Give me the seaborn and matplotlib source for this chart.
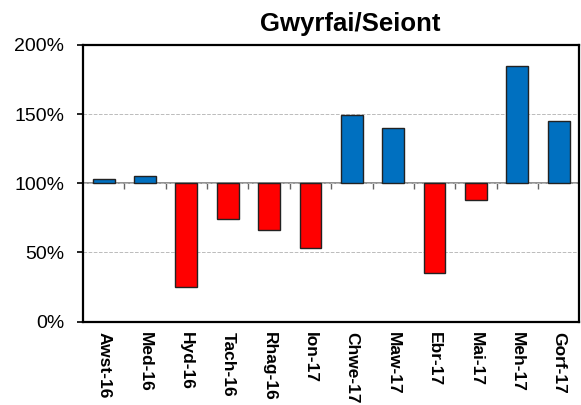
import numpy as np
import pandas as pd
import seaborn as sns
import matplotlib.pyplot as plt
from matplotlib.ticker import PercentFormatter

months = ["Awst-16", "Med-16", "Hyd-16", "Tach-16", "Rhag-16", "Ion-17",
          "Chwe-17", "Maw-17", "Ebr-17", "Mai-17", "Meh-17", "Gorf-17"]
pct = [103, 105, 25, 74, 66, 53, 149, 140, 35, 88, 185, 145]

df = pd.DataFrame({"month": months, "pct": pct})
df["change"] = df["pct"] - 100
df["dir"] = np.where(df["change"] >= 0, "up", "down")

sns.set_style("white")
plt.rcParams["font.family"] = ["Liberation Sans", "DejaVu Sans"]
plt.rcParams["text.color"] = "black"

fig = plt.figure(figsize=(5.81, 4.05), dpi=100)
ax = fig.add_axes([0.143, 0.206, 0.854, 0.683])

sns.barplot(data=df, x="month", y="change", hue="dir",
            palette={"up": "#0070C0", "down": "#FF0000"},
            bottom=100, width=0.53, dodge=False, legend=False,
            saturation=1, edgecolor="#222222", linewidth=1,
            errorbar=None, ax=ax, zorder=3)

ax.set_ylim(0, 200)
ax.set_yticks([0, 50, 100, 150, 200])
ax.yaxis.set_major_formatter(PercentFormatter(xmax=100, decimals=0))
ax.yaxis.grid(True, linestyle="--", color="#bbbbbb", linewidth=0.7)
ax.set_axisbelow(True)
ax.set_xlabel("")
ax.set_ylabel("")

for s in ax.spines.values():
    s.set_color("black")
    s.set_linewidth(1.6)

ax.tick_params(axis="y", left=True, direction="out", length=4.5, width=1.2,
               pad=9, labelsize=14, colors="black")
ax.tick_params(axis="x", bottom=False, pad=4, labelcolor="black")
for lbl in ax.get_xticklabels():
    lbl.set_rotation(270)
    lbl.set_fontweight("bold")
    lbl.set_fontsize(12.5)
    lbl.set_va("top")
    lbl.set_ha("center")

# axis line at 100% with ticks between categories
sec = ax.secondary_xaxis(0.5)
sec.set_xticks(np.arange(0.5, len(months) - 1, 1))
sec.set_xticklabels([])
sec.xaxis.set_ticks_position("bottom")
sec.tick_params(direction="out", length=4, width=1, color="#666666",
                labelbottom=False, labeltop=False)
for s in sec.spines.values():
    s.set_color("#888888")
    s.set_linewidth(1.3)

ax.set_title("Gwyrfai/Seiont", fontsize=18.5, fontweight="bold",
             color="black", x=0.538, pad=10)

fig.savefig("out.png", dpi=100)
